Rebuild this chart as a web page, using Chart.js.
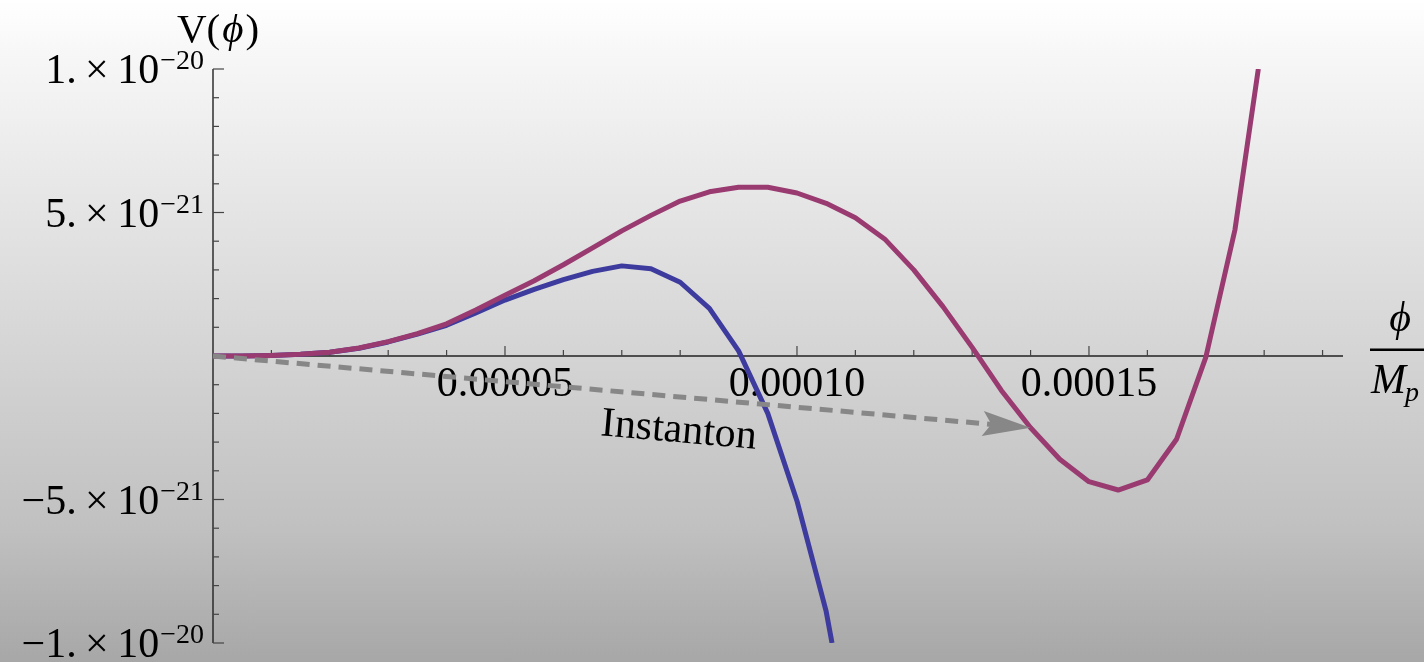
<!DOCTYPE html>
<html>
<head>
<meta charset="utf-8">
<script src="https://cdn.jsdelivr.net/npm/chart.js@4.4.1/dist/chart.umd.min.js"></script>
<style>
  html, body { margin: 0; padding: 0; }
  body {
    width: 1424px; height: 662px; overflow: hidden;
    background: linear-gradient(to bottom, #ffffff 0%, #f7f7f7 8%, #e6e6e6 30%, #d4d4d4 54%, #c0c0c0 80%, #a7a7a7 100%);
  }
  canvas { display: block; }
</style>
</head>
<body>
<canvas id="potential" width="1424" height="662"></canvas>
<script>
// phi / M_p samples and V(phi)
var phiPurple = [0, 0.5e-5, 1e-5, 1.5e-5, 2e-5, 2.5e-5, 3e-5, 3.5e-5, 4e-5, 4.5e-5, 5e-5, 5.5e-5,
  6e-5, 6.5e-5, 7e-5, 7.5e-5, 8e-5, 8.5e-5, 9e-5, 9.5e-5, 10e-5, 10.5e-5, 11e-5, 11.5e-5,
  12e-5, 12.5e-5, 13e-5, 13.5e-5, 14e-5, 14.5e-5, 15e-5, 15.5e-5, 16e-5, 16.5e-5, 17e-5, 17.5e-5, 17.9e-5];
var vPurple = [0, 0.0e-21, 0.02e-21, 0.06e-21, 0.13e-21, 0.28e-21, 0.5e-21, 0.78e-21, 1.12e-21, 1.6e-21, 2.12e-21, 2.62e-21,
  3.18e-21, 3.77e-21, 4.36e-21, 4.9e-21, 5.4e-21, 5.72e-21, 5.88e-21, 5.88e-21, 5.68e-21, 5.32e-21, 4.82e-21, 4.08e-21,
  3.0e-21, 1.72e-21, 0.3e-21, -1.2e-21, -2.5e-21, -3.6e-21, -4.38e-21, -4.67e-21, -4.32e-21, -2.9e-21, -0.05e-21, 4.4e-21, 10e-21];

var phiBlue = [0, 0.5e-5, 1e-5, 1.5e-5, 2e-5, 2.5e-5, 3e-5, 3.5e-5, 4e-5, 4.5e-5, 5e-5, 5.5e-5,
  6e-5, 6.5e-5, 7e-5, 7.5e-5, 8e-5, 8.5e-5, 9e-5, 9.5e-5, 10e-5, 10.5e-5, 10.6e-5];
var vBlue = [0, 0.0e-21, 0.02e-21, 0.06e-21, 0.13e-21, 0.27e-21, 0.49e-21, 0.76e-21, 1.07e-21, 1.5e-21, 1.95e-21, 2.32e-21,
  2.66e-21, 2.95e-21, 3.14e-21, 3.04e-21, 2.57e-21, 1.66e-21, 0.18e-21, -2.0e-21, -5.05e-21, -8.9e-21, -10e-21];

// instanton arrow, from the false vacuum to the far side of the barrier
var arrowFrom = [0, 0];
var arrowTo = [14e-5, -2.5e-21];

var xTicks = [5e-5, 10e-5, 15e-5];
var xTickLabels = ["0.00005", "0.00010", "0.00015"];
var yTicks = [1e-20, 5e-21, -5e-21, -1e-20];
var yTickMant = ["1.", "5.", "\u22125.", "\u22121."];
var yTickExp = ["\u221220", "\u221221", "\u221221", "\u221220"];

var SERIF = '"Liberation Serif", "Times New Roman", serif';

function pts(xs, ys) {
  return xs.map(function(x, i) { return { x: x, y: ys[i] }; });
}

var axesPlugin = {
  id: "crossAxes",
  beforeDatasetsDraw: function(chart) {
    var ctx = chart.ctx, xs = chart.scales.x, ys = chart.scales.y, a = chart.chartArea;
    var x0 = xs.getPixelForValue(0), y0 = ys.getPixelForValue(0);
    ctx.save();
    ctx.strokeStyle = "#222";
    ctx.lineWidth = 1.4;
    ctx.beginPath();
    ctx.moveTo(a.left, y0); ctx.lineTo(a.right, y0);
    ctx.moveTo(x0, a.top); ctx.lineTo(x0, a.bottom);
    ctx.stroke();

    // x ticks point up, minor every 1e-5
    ctx.lineWidth = 1.2;
    ctx.strokeStyle = "#444";
    for (var k = 1; k <= 19; k++) {
      var px = xs.getPixelForValue(k * 1e-5);
      var len = (k % 5 === 0) ? 10 : 6;
      ctx.beginPath(); ctx.moveTo(px, y0); ctx.lineTo(px, y0 - len); ctx.stroke();
    }
    // y ticks point right, minor every 1e-21
    for (var j = -10; j <= 10; j++) {
      if (j === 0) continue;
      var py = ys.getPixelForValue(j * 1e-21);
      var ln = (j % 5 === 0) ? 11 : 6;
      ctx.beginPath(); ctx.moveTo(x0, py); ctx.lineTo(x0 + ln, py); ctx.stroke();
    }

    ctx.fillStyle = "#000";
    ctx.font = "42px " + SERIF;
    ctx.textAlign = "center";
    ctx.textBaseline = "alphabetic";
    xTicks.forEach(function(v, i) {
      ctx.fillText(xTickLabels[i], xs.getPixelForValue(v), y0 + 40);
    });

    yTicks.forEach(function(v, i) {
      var py = ys.getPixelForValue(v);
      var right = x0 - 9;
      ctx.font = "28px " + SERIF;
      var ws = ctx.measureText(yTickExp[i]).width;
      ctx.textAlign = "left";
      ctx.fillText(yTickExp[i], right - ws, py);
      ctx.font = "42px " + SERIF;
      ctx.textAlign = "right";
      ctx.fillText(yTickMant[i] + "\u2009\u00d7\u200910", right - ws - 1, py + 14);
    });

    // axis labels
    ctx.textAlign = "left";
    ctx.font = "41px " + SERIF;
    var lx = 177;
    ctx.fillText("V(", lx, 42);
    lx += ctx.measureText("V(").width + 2;
    ctx.font = "italic 41px " + SERIF;
    ctx.fillText("\u03d5", lx, 42);
    lx += ctx.measureText("\u03d5").width + 2;
    ctx.font = "41px " + SERIF;
    ctx.fillText(")", lx, 42);

    ctx.font = "italic 42px " + SERIF;
    ctx.textAlign = "center";
    ctx.fillText("\u03d5", 1400, 331);
    ctx.fillRect(1370, 348.5, 60, 2.5);
    ctx.textAlign = "left";
    ctx.fillText("M", 1371, 393);
    var mw = ctx.measureText("M").width;
    ctx.font = "italic 28px " + SERIF;
    ctx.fillText("p", 1371 + mw - 1, 401);
    ctx.restore();
  },
  afterDatasetsDraw: function(chart) {
    var ctx = chart.ctx, xs = chart.scales.x, ys = chart.scales.y;
    var sx = xs.getPixelForValue(arrowFrom[0]), sy = ys.getPixelForValue(arrowFrom[1]);
    var tx = xs.getPixelForValue(arrowTo[0]), ty = ys.getPixelForValue(arrowTo[1]);
    var dx = tx - sx, dy = ty - sy, len = Math.sqrt(dx * dx + dy * dy);
    var ux = dx / len, uy = dy / len, nx = -uy, ny = ux;
    var headL = 48, headW = 12.5;
    ctx.save();
    ctx.strokeStyle = "#878787";
    ctx.fillStyle = "#878787";
    ctx.lineWidth = 5;
    ctx.setLineDash([13, 8]);
    ctx.beginPath();
    ctx.moveTo(sx, sy);
    ctx.lineTo(tx - ux * headL * 0.8, ty - uy * headL * 0.8);
    ctx.stroke();
    ctx.setLineDash([]);
    var bx = tx - ux * headL, by = ty - uy * headL;
    ctx.beginPath();
    ctx.moveTo(tx, ty);
    ctx.lineTo(bx + nx * headW, by + ny * headW);
    ctx.lineTo(tx - ux * headL * 0.82, ty - uy * headL * 0.82);
    ctx.lineTo(bx - nx * headW, by - ny * headW);
    ctx.closePath();
    ctx.fill();

    // "Instanton" label running along the arrow
    ctx.translate(xs.getPixelForValue(7.96e-5), ys.getPixelForValue(-3.0e-21));
    ctx.rotate(Math.atan2(dy, dx));
    ctx.fillStyle = "#000";
    ctx.font = "42px " + SERIF;
    ctx.textAlign = "center";
    ctx.textBaseline = "alphabetic";
    ctx.fillText("Instanton", 0, 0);
    ctx.restore();
  }
};

var ctx = document.getElementById("potential").getContext("2d");

var myChart = new Chart(ctx, {
  type: "line",
  data: {
    datasets: [{
      data: pts(phiPurple, vPurple),
      borderColor: "#993a71",
      borderWidth: 5,
      borderJoinStyle: "round",
      pointRadius: 0,
      fill: false,
      tension: 0,
      order: 0
    }, {
      data: pts(phiBlue, vBlue),
      borderColor: "#3d3b9d",
      borderWidth: 5,
      borderJoinStyle: "round",
      pointRadius: 0,
      fill: false,
      tension: 0,
      order: 1
    }]
  },
  options: {
    responsive: false,
    animation: false,
    layout: { padding: { left: 213, right: 81, top: 69, bottom: 19 } },
    plugins: {
      legend: { display: false },
      tooltip: { enabled: false }
    },
    scales: {
      x: { type: "linear", min: 0, max: 19.35e-5, display: false },
      y: { type: "linear", min: -1e-20, max: 1e-20, display: false }
    }
  },
  plugins: [axesPlugin]
});
</script>
</body>
</html>
